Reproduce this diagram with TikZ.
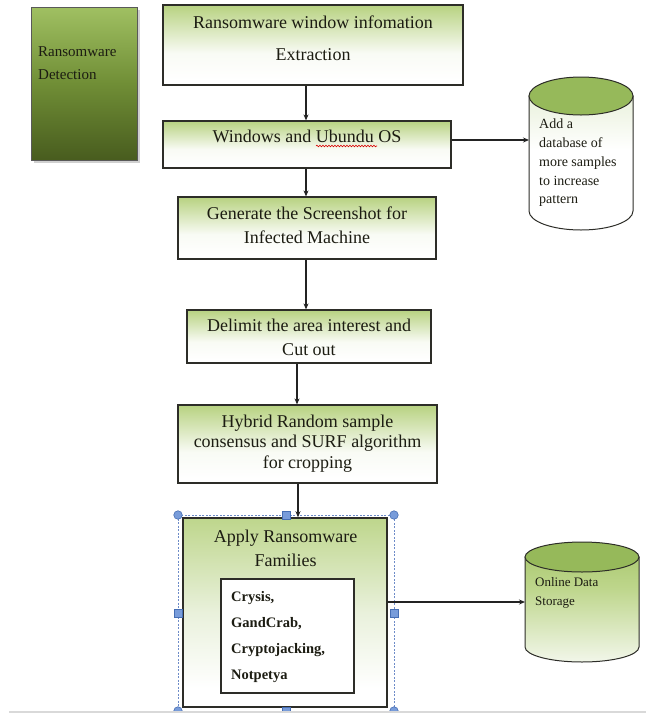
\documentclass[tikz,border=0pt]{standalone}
\usepackage{fontspec}
\setmainfont{Liberation Serif}
\usetikzlibrary{arrows.meta,decorations.pathmorphing,calc}
\definecolor{gtop}{RGB}{146,184,78}
\definecolor{glt}{RGB}{190,214,140}
\definecolor{bord}{RGB}{45,45,40}
\definecolor{lin}{RGB}{35,35,35}
\definecolor{ink}{RGB}{28,28,18}
\definecolor{dtop}{RGB}{160,192,98}
\definecolor{dmid}{RGB}{112,142,54}
\definecolor{dbot}{RGB}{72,92,30}
\definecolor{cyltop}{RGB}{150,185,90}
\definecolor{hfill}{RGB}{120,156,218}
\definecolor{hdraw}{RGB}{70,110,180}
\definecolor{selc}{RGB}{110,140,200}
\pgfdeclareverticalshading{boxsh}{100bp}{color(0bp)=(white); color(28bp)=(white); color(45bp)=(white!94!gtop); color(72bp)=(glt); color(90bp)=(gtop); color(100bp)=(gtop)}
\pgfdeclareverticalshading{bigsh}{100bp}{color(0bp)=(white); color(30bp)=(white); color(50bp)=(white!80!gtop); color(75bp)=(glt); color(92bp)=(gtop); color(100bp)=(gtop)}
\pgfdeclareverticalshading{cylash}{100bp}{color(0bp)=(white); color(55bp)=(white); color(80bp)=(white!75!gtop); color(100bp)=(glt)}
\pgfdeclareverticalshading{cylbsh}{100bp}{color(0bp)=(white!92!gtop); color(25bp)=(white!88!gtop); color(60bp)=(glt); color(100bp)=(gtop)}
\begin{document}
\begin{tikzpicture}[x=1pt,y=-1pt,
  box/.style={draw=bord, line width=1.2pt, rectangle, inner sep=0pt, shading=boxsh},
  arr/.style={draw=lin, line width=1.1pt, -{Stealth[length=6pt,width=5pt]}},
  txt/.style={font=\fontsize{18}{24}\selectfont, text=ink, align=center, inner sep=0pt},
  handc/.style={circle, fill=hfill, draw=hdraw, line width=0.6pt, minimum size=8.5pt, inner sep=0pt},
  hands/.style={rectangle, fill=hfill, draw=hdraw, line width=0.6pt, minimum size=8pt, inner sep=0pt},
  cyl/.style={draw=bord, line width=1pt}
]
\useasboundingbox (0,0) rectangle (646,713);
\fill[white] (0,0) rectangle (646,713);

% left detection box
\fill[gray!60, opacity=0.6] (34,10) rectangle (140,163);
\node[draw=gray!70!black, line width=0.8pt, rectangle, inner sep=0pt,
  minimum width=106pt, minimum height=153pt,
  top color=dtop, bottom color=dbot, middle color=dmid] (det) at (84,83.5) {};
\node[font=\fontsize{15}{23}\selectfont, text=ink, align=left, inner sep=0pt, anchor=west] (dett) at (38,63.5) {Ransomware\\Detection};

% main boxes
\node[box, minimum width=300pt, minimum height=80pt] (b1) at (313,45) {};
\node[txt, font=\fontsize{18}{32}\selectfont] (t1) at (313,38.5) {Ransomware window infomation\\Extraction};

\node[box, minimum width=288pt, minimum height=47pt] (b2) at (307,144.5) {};
\node[txt] (t2) at (307,136.5) {Windows and Ubundu OS};
\draw[red!85!black, line width=0.6pt, decorate, decoration={snake, amplitude=0.8pt, segment length=3pt}] (316,146) -- (377,146);

\node[box, minimum width=258pt, minimum height=62pt] (b3) at (307,228) {};
\node[txt] (t3) at (307,225.5) {Generate the Screenshot for\\Infected Machine};

\node[box, minimum width=244pt, minimum height=53pt] (b4) at (309,336.5) {};
\node[txt] (t4) at (309,337.5) {Delimit the area interest and\\Cut out};

\node[box, minimum width=259pt, minimum height=78pt] (b5) at (307.5,444) {};
\node[txt, font=\fontsize{18}{20.5}\selectfont] (t5) at (307.5,443.5) {Hybrid Random sample\\consensus and SURF algorithm\\for cropping};

% selection frame
\draw[selc, line width=0.8pt, dash pattern=on 2pt off 1.5pt] (178,515) rectangle (394,711);

\node[box, line width=1.6pt, minimum width=204pt, minimum height=189pt, shading=bigsh] (b6) at (285,612.5) {};
\node[txt] (t6) at (285.5,548.5) {Apply Ransomware\\Families};
\node[draw=bord, line width=1.3pt, fill=white, rectangle, inner sep=0pt,
  minimum width=133pt, minimum height=114pt] (inner) at (287.5,636) {};
\node[font=\fontsize{14.5}{26}\selectfont\bfseries, text=ink, align=left, inner sep=0pt, anchor=west] (innert) at (231,637) {Crysis,\\GandCrab,\\Cryptojacking,\\Notpetya};

% handles
\node[handc] (h1) at (178,515) {};
\node[handc] (h2) at (394,515) {};
\node[handc] (h3) at (178,711) {};
\node[handc] (h4) at (394,711) {};
\node[hands] (h5) at (286,515) {};
\node[hands] (h6) at (178,613) {};
\node[hands] (h7) at (394,613) {};
\node[hands] (h8) at (286,711) {};

% cylinder 1
\path[cyl, shading=cylash] (529,96) -- (529,211) arc[start angle=180, end angle=0, x radius=52, y radius=19] -- (633,96) -- cycle;
\draw[cyl, fill=cyltop] (581,96) ellipse [x radius=52, y radius=19];
\coordinate (cyl1) at (529,140);
\node[font=\fontsize{14}{18.8}\selectfont, text=ink, align=left, inner sep=0pt, anchor=west] (c1t) at (539,163) {Add a\\database of\\more samples\\to increase\\pattern};

% cylinder 2
\path[cyl, shading=cylbsh] (525,557) -- (525,647) arc[start angle=180, end angle=0, x radius=57, y radius=15] -- (639,557) -- cycle;
\draw[cyl, fill=cyltop] (582,557) ellipse [x radius=57, y radius=15];
\coordinate (cyl2) at (525,602);
\node[font=\fontsize{13}{19}\selectfont, text=ink, align=left, inner sep=0pt, anchor=west] (c2t) at (535,593) {Online Data\\Storage};

% connectors
\draw[arr] ([xshift=-7pt]b1.south) -- ([xshift=-7pt]b1.south |- b2.north);
\draw[arr] ([xshift=-1pt]b2.south) -- ([xshift=-1pt]b2.south |- b3.north);
\draw[arr] ([xshift=-1pt]b3.south) -- ([xshift=-1pt]b3.south |- b4.north);
\draw[arr] ([xshift=-12pt]b4.south) -- ([xshift=-12pt]b4.south |- b5.north);
\draw[arr] ([xshift=-9.5pt]b5.south) -- ([xshift=-9.5pt]b5.south |- b6.north);
\draw[arr] (b2.east |- cyl1) -- (cyl1);
\draw[arr] (b6.east |- cyl2) -- (cyl2);

% bottom rule
\draw[gray!30, line width=2pt] (9,712) -- (646,712);
\end{tikzpicture}
\end{document}
